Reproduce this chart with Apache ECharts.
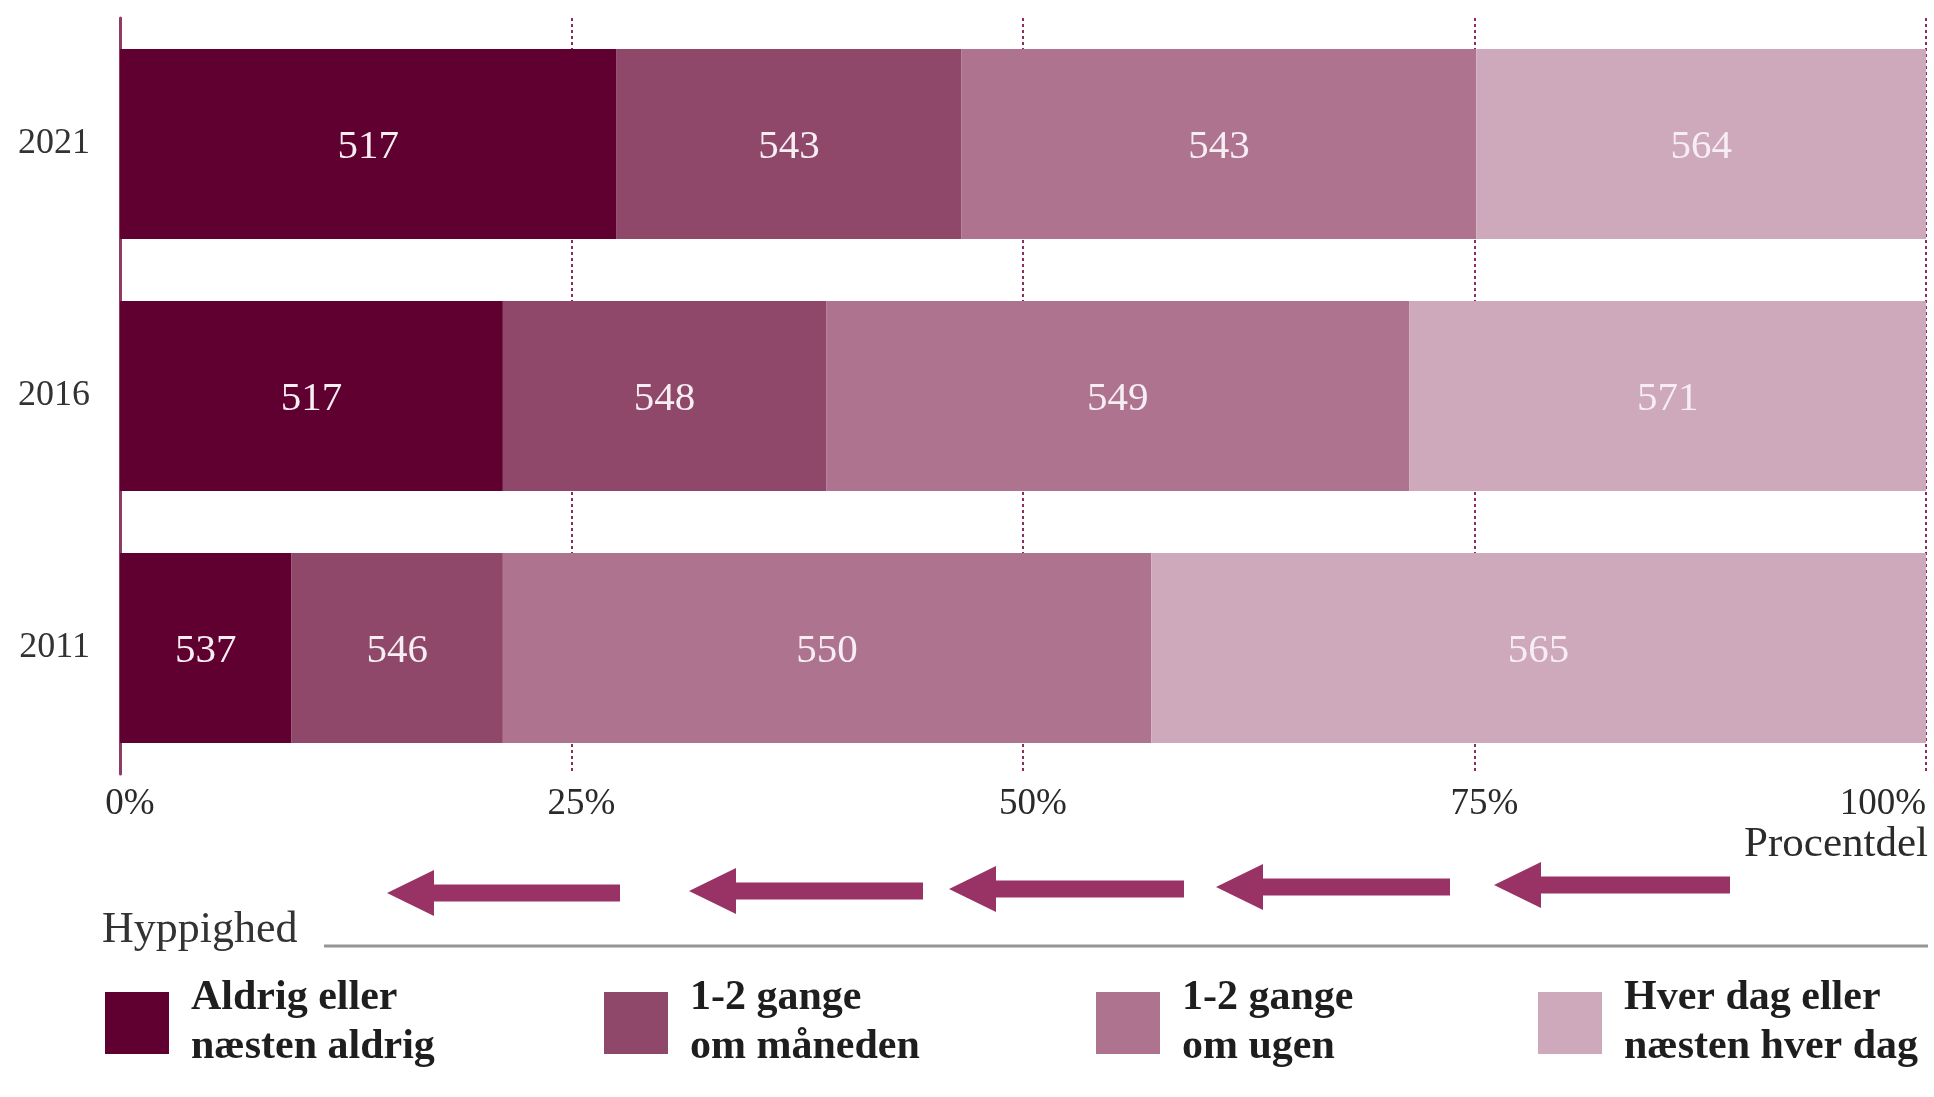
<!DOCTYPE html>
<html>
<head>
<meta charset="utf-8">
<script src="https://cdn.jsdelivr.net/npm/echarts@6/dist/echarts.min.js"></script>
<style>
  html, body { margin: 0; padding: 0; background: #ffffff; }
  #chart { width: 1934px; height: 1097px; }
</style>
</head>
<body>
<div id="chart"></div>
<script>
// ---------- DATA ----------
const years = ['2021', '2016', '2011'];
const categoryNames = ['Aldrig eller\nnæsten aldrig', '1-2 gange\nom måneden', '1-2 gange\nom ugen', 'Hver dag eller\nnæsten hver dag'];
// share of pupils (percent) per frequency group, order: 2021, 2016, 2011
const pctAldrig = [27.5, 21.2, 9.5];
const pctMaaned = [19.1, 17.9, 11.7];
const pctUge    = [28.5, 32.3, 35.9];
const pctDag    = [24.9, 28.6, 42.9];
// score labels shown inside the segments
const scoreAldrig = [517, 517, 537];
const scoreMaaned = [543, 548, 546];
const scoreUge    = [543, 549, 550];
const scoreDag    = [564, 571, 565];
const xTickValues = [0, 25, 50, 75, 100];
const axisName = 'Procentdel';
const legendTitle = 'Hyppighed';

// ---------- STYLE ----------
const FONT = 'Liberation Serif';
const colors = ['#600030', '#8f486a', '#ad738f', '#cea8bb'];
const pctSets = [pctAldrig, pctMaaned, pctUge, pctDag];
const scoreSets = [scoreAldrig, scoreMaaned, scoreUge, scoreDag];

const series = categoryNames.map((name, i) => ({
  name: name,
  type: 'bar',
  stack: 'total',
  barCategoryGap: '24.6%',
  itemStyle: { color: colors[i] },
  label: {
    show: true,
    position: 'inside',
    offset: [0, 3],
    color: '#f6eef2',
    fontFamily: FONT,
    fontSize: 41,
    formatter: (p) => String(scoreSets[i][p.dataIndex])
  },
  emphasis: { disabled: true },
  data: pctSets[i]
}));

const legendLefts = [105, 604, 1096, 1538];
const legends = categoryNames.map((name, i) => ({
  data: [name],
  left: legendLefts[i],
  top: 974,
  padding: 0,
  orient: 'horizontal',
  icon: 'rect',
  itemWidth: 64,
  itemHeight: 62,
  selectedMode: false,
  textStyle: {
    fontFamily: FONT,
    fontSize: 42,
    fontWeight: 'bold',
    lineHeight: 49,
    color: '#1e1e1e',
    padding: [0, 0, 0, 17]
  }
}));

function arrow(tipX, tailX, cy) {
  const headBack = tipX + 47, hh = 23, sh = 8.5;
  return {
    type: 'polygon',
    shape: { points: [[tipX, cy], [headBack, cy - hh], [headBack, cy - sh], [tailX, cy - sh], [tailX, cy + sh], [headBack, cy + sh], [headBack, cy + hh]] },
    style: { fill: '#993366' },
    silent: true
  };
}

const option = {
  animation: false,
  backgroundColor: '#ffffff',
  textStyle: { fontFamily: FONT },
  title: [
    { text: axisName, right: 6, top: 823, padding: 0,
      textStyle: { fontFamily: FONT, fontSize: 43, fontWeight: 'normal', color: '#2b2b2b', lineHeight: 44 } },
    { text: legendTitle, left: 102, top: 908, padding: 0,
      textStyle: { fontFamily: FONT, fontSize: 44, fontWeight: 'normal', color: '#333333', lineHeight: 44 } }
  ],
  legend: legends,
  grid: { left: 120, right: 8, top: 18, height: 756, containLabel: false },
  xAxis: {
    type: 'value',
    min: 0,
    max: 100,
    interval: 25,
    axisLine: { show: false },
    axisTick: { show: false },
    axisLabel: {
      formatter: (v) => xTickValues.indexOf(v) >= 0 ? v + '%' : '',
      fontFamily: FONT,
      fontSize: 37,
      color: '#2a2a2a',
      margin: 12,
      padding: [0, 0, 0, 20],
      alignMaxLabel: 'right'
    },
    splitLine: {
      show: true,
      showMinLine: false,
      lineStyle: { type: [3, 3], color: '#8b2d5a', width: 2 }
    }
  },
  yAxis: {
    type: 'category',
    data: years,
    inverse: true,
    axisLine: { show: true, lineStyle: { color: '#8f3c64', width: 3 } },
    axisTick: { show: false },
    axisLabel: { fontFamily: FONT, fontSize: 36, color: '#333333', margin: 30 }
  },
  graphic: [
    arrow(387, 620, 893),
    arrow(689, 923, 891),
    arrow(949, 1184, 889),
    arrow(1216, 1450, 887),
    arrow(1494, 1730, 885),
    { type: 'line', shape: { x1: 324, y1: 946, x2: 1928, y2: 946 },
      style: { stroke: '#959595', lineWidth: 3 }, silent: true }
  ],
  series: series
};

const chart = echarts.init(document.getElementById('chart'), null, { renderer: 'canvas' });
chart.setOption(option);
</script>
</body>
</html>
